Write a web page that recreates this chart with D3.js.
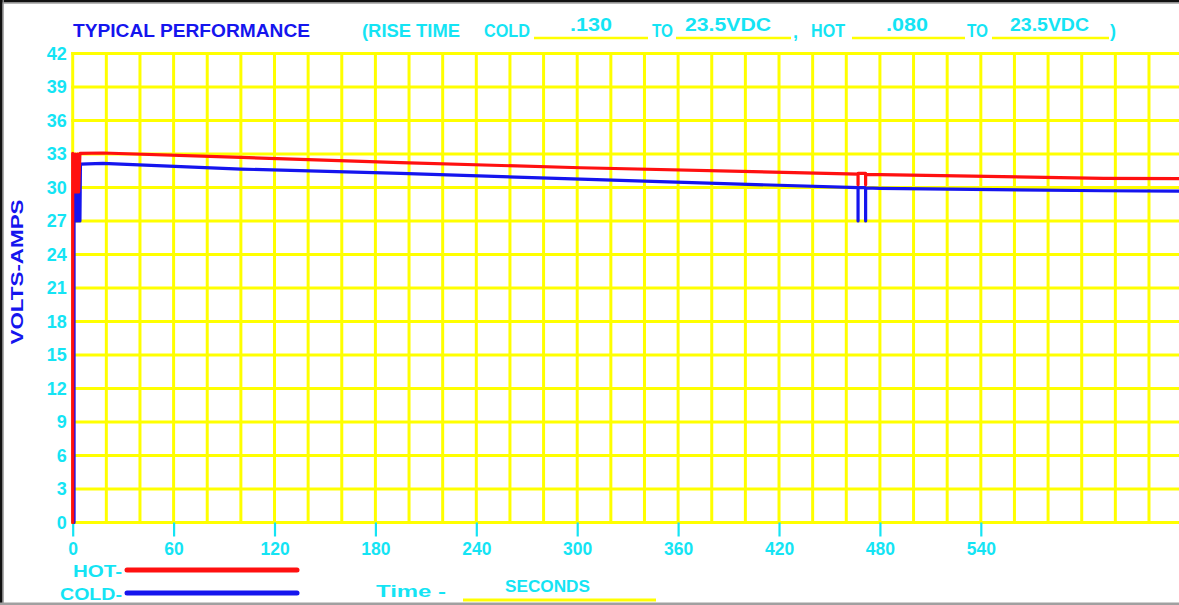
<!DOCTYPE html>
<html><head><meta charset="utf-8">
<script src="https://cdn.jsdelivr.net/npm/d3@7/dist/d3.min.js"></script>
<style>
html,body{margin:0;padding:0;background:#fff;}
svg{display:block;}
text{font-family:"Liberation Sans",Arial,sans-serif;font-weight:bold;}
</style></head>
<body>
<svg id="chart" width="1179" height="605"></svg>
<script>
// ---- data ----
const yTickLabels = [0,3,6,9,12,15,18,21,24,27,30,33,36,39,42];
const xTickLabels = [0,60,120,180,240,300,360,420,480,540];
const hotTime  = [0,   0,  0.7, 1.4, 2.1, 2.8, 3.5, 4.3,  18,    100,   195,   302,   467,   467,  467,  471.5, 471.5, 471.5, 480,   613,   660];
const hotValue = [0,  33.05, 29.6, 33, 29.6,  33, 29.6, 33.05, 33.09, 32.70, 32.22, 31.77, 31.20, 30.25, 31.27, 31.27, 30.25, 31.17, 31.15, 30.82, 30.80];
const coldTime  = [0.8, 0.8, 0.9, 1.5, 2.1, 2.7, 3.3, 3.9, 4.3, 4.6,  18,    100,   195,   302,   467,   467, 467,   471.5, 471.5, 471.5, 480,   613,   660];
const coldValue = [0,  32.3,  27, 29.7, 27, 29.7, 27, 29.7, 27, 32.1, 32.16, 31.65, 31.27, 30.75, 29.98, 27,  29.98, 29.98, 27,    29.96, 29.93, 29.71, 29.68];
const titleMain = "TYPICAL PERFORMANCE";
const riseLabel = "(RISE TIME", coldLabel = "COLD", toLabel = "TO", hotLabel = "HOT";
const coldRise = ".130", hotRise = ".080", voltLabel = "23.5VDC";
const yTitle = "VOLTS-AMPS";
const legendHot = "HOT-", legendCold = "COLD-";
const timeLabel = "Time -", unitLabel = "SECONDS";

// ---- setup ----
const svg = d3.select("#chart");
const CYAN = "#14e4f4", BLUE = "#1515ee", RED = "#ff1010", YEL = "#ffff00";
const x = d3.scaleLinear().domain([0,660]).range([72.7, 72.7 + 660*1.6817]);
const y = d3.scaleLinear().domain([0,42]).range([522.5, 53.5]);

// frame
svg.append("rect").attr("x",0).attr("y",0).attr("width",1179).attr("height",2.5).attr("fill","#111");
svg.append("rect").attr("x",2.5).attr("y",2.5).attr("width",1176.5).attr("height",1.2).attr("fill","#999");
svg.append("rect").attr("x",0).attr("y",0).attr("width",2.6).attr("height",605).attr("fill","#111");
svg.append("rect").attr("x",2.6).attr("y",0).attr("width",1.2).attr("height",605).attr("fill","#999");
svg.append("rect").attr("x",0).attr("y",602.5).attr("width",1179).attr("height",2.5).attr("fill","#a0a0a0");

// grid
const g = svg.append("g");
const xGrid = d3.range(0, 661, 20);
const yGrid = d3.range(0, 43, 3);
g.selectAll("line.v").data(xGrid).join("line").attr("class","v")
  .attr("x1",d=>x(d)).attr("x2",d=>x(d)).attr("y1",y(0)+1.5).attr("y2",y(42)-1.5)
  .attr("stroke",YEL).attr("stroke-width",3);
g.selectAll("line.h").data(yGrid).join("line").attr("class","h")
  .attr("x1",x(0)-1.5).attr("x2",x(660)).attr("y1",d=>y(d)).attr("y2",d=>y(d))
  .attr("stroke",YEL).attr("stroke-width",3);

// axes
const xAxis = d3.axisBottom(x).tickValues(xTickLabels).tickSize(14).tickPadding(6);
const xa = svg.append("g").attr("transform",`translate(0,${y(0)})`).call(xAxis);
xa.select(".domain").remove();
xa.selectAll(".tick line").attr("stroke",CYAN).attr("stroke-width",2.2);
xa.selectAll(".tick text").attr("fill",CYAN).attr("font-size",17.5).attr("font-weight","bold")
  .attr("font-family","Liberation Sans, Arial, sans-serif");

const yAxis = d3.axisLeft(y).tickValues(yTickLabels).tickSize(0).tickPadding(6);
const ya = svg.append("g").attr("transform",`translate(${x(0)},0)`).call(yAxis);
ya.select(".domain").remove();
ya.selectAll(".tick text").attr("fill",CYAN).attr("font-size",18).attr("font-weight","bold")
  .attr("font-family","Liberation Sans, Arial, sans-serif");

// series
const line = d3.line().x(d=>x(d[0])).y(d=>y(d[1]));
const cold = coldTime.map((t,i)=>[t, coldValue[i]]);
const hot = hotTime.map((t,i)=>[t, hotValue[i]]);
svg.append("path").datum(cold).attr("d",line).attr("fill","none")
  .attr("stroke",BLUE).attr("stroke-width",3.2).attr("stroke-linejoin","round").attr("stroke-linecap","round");
svg.append("path").datum(hot).attr("d",line).attr("fill","none")
  .attr("stroke",RED).attr("stroke-width",3.2).attr("stroke-linejoin","round").attr("stroke-linecap","round");

// text helper
function txt(s, x0, yb, w, color, size, anchor){
  const t = svg.append("text").attr("x",x0).attr("y",yb).attr("fill",color)
    .attr("font-size",size).text(s);
  if (w) t.attr("textLength",w).attr("lengthAdjust","spacingAndGlyphs");
  if (anchor) t.attr("text-anchor",anchor);
  return t;
}
function uline(x1,x2,yy,w){
  svg.append("line").attr("x1",x1).attr("x2",x2).attr("y1",yy).attr("y2",yy)
    .attr("stroke",YEL).attr("stroke-width",w||2.5);
}

// header
txt(titleMain, 73, 37, 237, BLUE, 18);
txt(riseLabel, 362, 37, 98, CYAN, 18);
txt(coldLabel, 484, 37, 46, CYAN, 18);
uline(534, 648, 38);
txt(coldRise, 570, 31, 42, CYAN, 18);
txt(toLabel, 652, 37, 21, CYAN, 18);
uline(676, 791, 38);
txt(voltLabel, 685, 31, 86, CYAN, 18);
txt(",", 793, 38, 0, CYAN, 18);
txt(hotLabel, 811, 37, 34, CYAN, 18);
uline(852, 965, 38);
txt(hotRise, 886, 31, 42, CYAN, 18);
txt(toLabel, 967, 37, 21, CYAN, 18);
uline(992, 1109, 38);
txt(voltLabel, 1010, 31, 79, CYAN, 18);
txt(")", 1110, 37, 0, CYAN, 18);

// y title
svg.append("text").attr("transform","translate(23,272) rotate(-90)")
  .attr("text-anchor","middle").attr("fill",BLUE).attr("font-size",17)
  .attr("textLength",145).attr("lengthAdjust","spacingAndGlyphs").text(yTitle);

// legend
txt(legendHot, 73, 577, 49, CYAN, 17);
svg.append("line").attr("x1",127).attr("x2",297).attr("y1",570).attr("y2",570)
  .attr("stroke",RED).attr("stroke-width",5).attr("stroke-linecap","round");
txt(legendCold, 60, 600, 62, CYAN, 17);
svg.append("line").attr("x1",127).attr("x2",297).attr("y1",593).attr("y2",593)
  .attr("stroke",BLUE).attr("stroke-width",5).attr("stroke-linecap","round");

txt(timeLabel, 376, 597, 70, CYAN, 17);
txt(unitLabel, 505, 592, 85, CYAN, 17);
uline(463, 656, 600, 3);
</script>
</body></html>
